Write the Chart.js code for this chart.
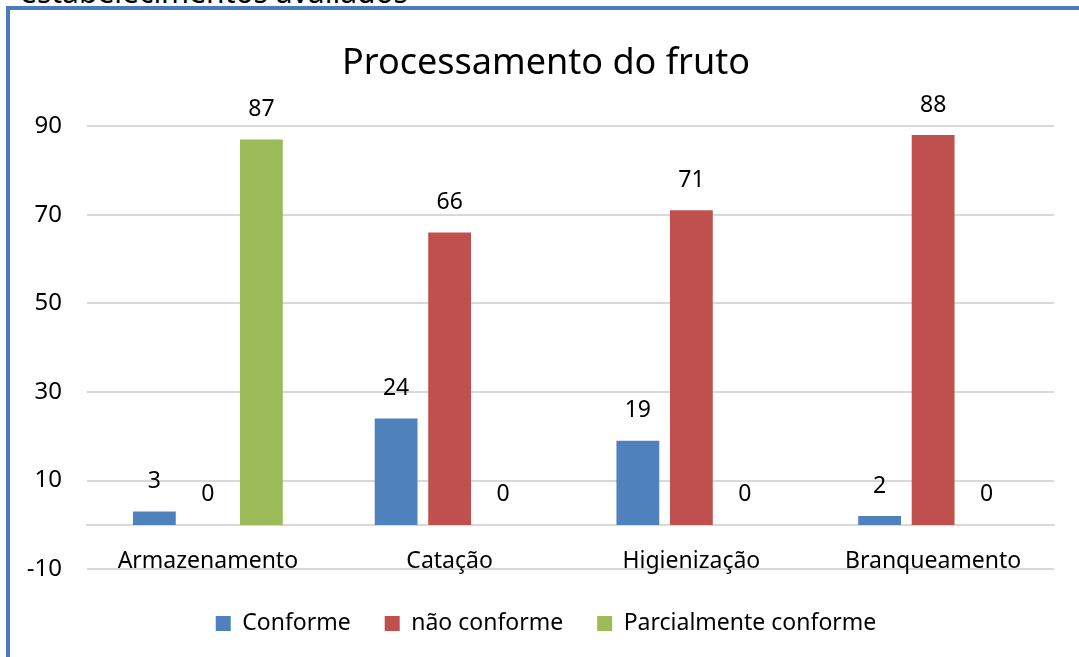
<!DOCTYPE html>
<html>
<head>
<meta charset="utf-8">
<script src="https://cdn.jsdelivr.net/npm/chart.js@4/dist/chart.umd.min.js"></script>
<style>
  body { margin: 0; background: #fff; overflow: hidden; }
  #wrap { position: relative; width: 1079px; height: 657px; overflow: hidden; }
  #above { position: absolute; left: 20px; top: -23px; font: 30px "Noto Sans"; line-height: 30px; color: #000; white-space: nowrap; }
  #frame { position: absolute; left: 6px; top: 6px; width: 1100px; height: 700px; border-left: 4px solid #4a7ebb; border-top: 4px solid #4a7ebb; pointer-events: none; }
  canvas { position: absolute; left: 0; top: 0; }
</style>
</head>
<body>
<div id="wrap">
  <div id="above">estabelecimentos avaliados</div>
  <canvas id="chart" width="1079" height="657"></canvas>
  <div id="frame"></div>
</div>
<script>
var categories = ["Armazenamento", "Catação", "Higienização", "Branqueamento"];
var conforme = [3, 24, 19, 2];
var naoConforme = [0, 66, 71, 88];
var parcialmente = [87, 0, 0, 0];

var font = "'Noto Sans', 'DejaVu Sans', sans-serif";

// value labels above every bar, zeros included
var valueLabels = {
    id: "valueLabels",
    afterDatasetsDraw: function (chart) {
        var ctx = chart.ctx;
        ctx.save();
        ctx.font = "23px " + font;
        ctx.fillStyle = "#000";
        ctx.textAlign = "center";
        ctx.textBaseline = "middle";
        chart.data.datasets.forEach(function (ds, i) {
            chart.getDatasetMeta(i).data.forEach(function (bar, j) {
                ctx.fillText(ds.data[j], bar.x, bar.y - 30);
            });
        });
        ctx.restore();
    },
};

const chartdata = {
    labels: categories,
    datasets: [
        {
            label: "Conforme",
            backgroundColor: "#4f81bd",
            data: conforme,
            categoryPercentage: 0.664,
            barPercentage: 0.8,
        },
        {
            label: "não conforme",
            backgroundColor: "#c0504d",
            data: naoConforme,
            categoryPercentage: 0.664,
            barPercentage: 0.8,
        },
        {
            label: "Parcialmente conforme",
            backgroundColor: "#9bbb59",
            data: parcialmente,
            categoryPercentage: 0.664,
            barPercentage: 0.8,
        },
    ],
};

const config = {
    type: "bar",
    data: chartdata,
    plugins: [valueLabels],
    options: {
        responsive: false,
        animation: false,
        layout: {
            padding: { left: 38, right: 25, top: 0, bottom: 12 },
        },
        scales: {
            x: {
                position: { y: 0 },
                grid: { display: false },
                border: { display: true, color: "#d9d9d9", width: 2 },
                ticks: {
                    color: "#000",
                    font: { family: font, size: 23 },
                    padding: 15,
                    maxRotation: 0,
                    autoSkip: false,
                },
            },
            y: {
                min: -10,
                max: 90,
                // narrow axis box so title and legend centre like the original; labels may overflow it
                afterFit: function (scale) {
                    scale.width = 49;
                    scale._computeLabelArea = function () { return undefined; };
                },
                ticks: {
                    stepSize: 20,
                    color: "#000",
                    font: { family: font, size: 24 },
                    padding: 25,
                },
                grid: { color: "#d9d9d9", lineWidth: 2, drawTicks: false },
                border: { display: false },
            },
        },
        plugins: {
            title: {
                display: true,
                text: "Processamento do fruto",
                color: "#000",
                font: { family: font, size: 36, weight: "normal" },
                padding: { top: 42, bottom: 41 },
            },
            legend: {
                position: "bottom",
                title: { display: true, text: " ", font: { size: 4 }, padding: 2 },
                labels: {
                    color: "#000",
                    font: { family: font, size: 23 },
                    boxWidth: 15,
                    boxHeight: 15,
                    padding: 34,
                },
            },
            tooltip: { enabled: false },
        },
    },
};

new Chart(document.getElementById("chart"), config);
</script>
</body>
</html>
